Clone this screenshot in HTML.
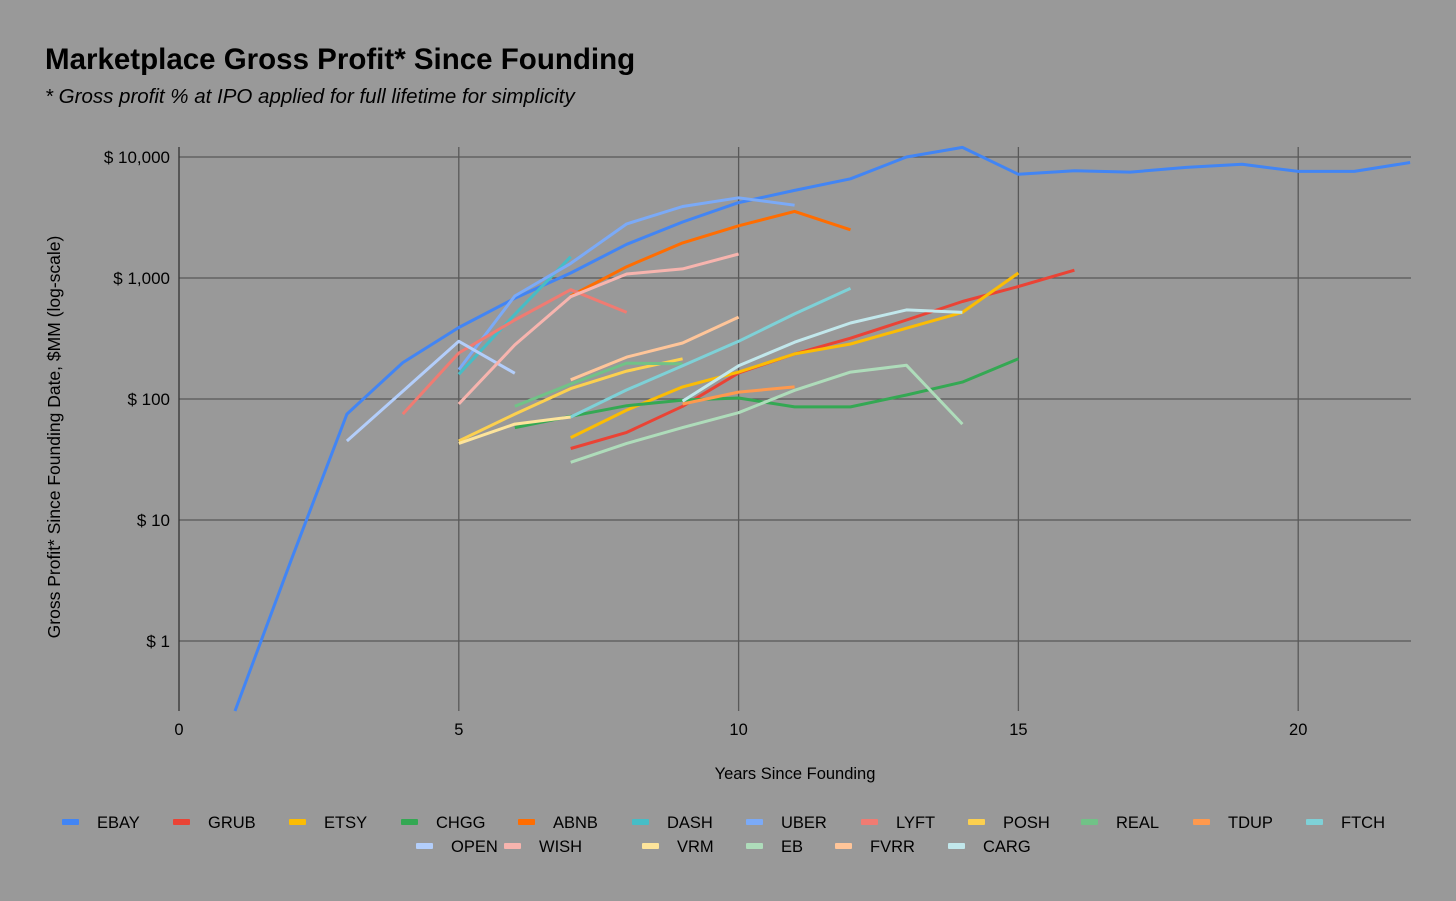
<!DOCTYPE html>
<html><head><meta charset="utf-8"><style>
body{margin:0;background:#999999;font-family:"Liberation Sans",sans-serif;}
svg{display:block}
</style></head><body>
<svg id="chart" width="1456" height="901">
<rect width="1456" height="901" fill="#999999"/>
<text x="45" y="69" font-size="29.5" font-weight="bold" fill="#000">Marketplace Gross Profit* Since Founding</text>
<text x="45" y="103" font-size="20.5" font-style="italic" fill="#000">* Gross profit % at IPO applied for full lifetime for simplicity</text>
<text transform="translate(60,437) rotate(-90)" text-anchor="middle" font-size="17.5" fill="#000">Gross Profit* Since Founding Date, $MM (log-scale)</text>
<text x="795" y="779" text-anchor="middle" font-size="16.5" fill="#000">Years Since Founding</text>
<g id="grid"></g><g id="series"></g><g id="legend"></g>
</svg>
<script>
const xTicks=[0,5,10,15,20];
const yTicks=[1,10,100,1000,10000];
const yTickLabels=["$ 1","$ 10","$ 100","$ 1,000","$ 10,000"];
const names=["EBAY","GRUB","ETSY","CHGG","ABNB","DASH","UBER","LYFT","POSH","REAL","TDUP","FTCH","OPEN","WISH","VRM","EB","FVRR","CARG"];
const colors=["#4285f4","#ea4335","#fbbc04","#34a853","#ff6d01","#46bdc6","#7baaf7","#f07b72","#fcd04f","#71c287","#ff994d","#7ed1d7","#b3cefb","#f7b4ae","#fde49b","#aedcba","#ffc599","#c1e7eb"];
const starts=[1,7,7,6,7,5,5,4,5,6,9,7,3,5,5,7,7,9];
const EBAY=[0.26,4.6,75,200,390,680,1100,1900,2900,4200,5300,6600,10000,12000,7200,7700,7500,8200,8700,7600,7600,9000];
const GRUB=[39,53,87,164,236,318,450,640,850,1160];
const ETSY=[48,81,126,167,236,285,385,520,1100];
const CHGG=[58,72,88,98,102,86,86,108,138,215];
const ABNB=[710,1240,1950,2700,3550,2500];
const DASH=[160,500,1500];
const UBER=[175,710,1320,2800,3900,4600,4000];
const LYFT=[75,240,450,800,520];
const POSH=[45,75,122,170,215];
const REAL=[87,133,198,195];
const TDUP=[91,114,126];
const FTCH=[71,119,188,300,505,820];
const OPEN=[45,116,300,163];
const WISH=[91,280,700,1080,1190,1580];
const VRM=[43,62,71];
const EB=[30,43,58,77,118,167,190,62];
const FVRR=[144,222,290,475];
const CARG=[96,188,295,425,545,520];
const values=[EBAY,GRUB,ETSY,CHGG,ABNB,DASH,UBER,LYFT,POSH,REAL,TDUP,FTCH,OPEN,WISH,VRM,EB,FVRR,CARG];
const NS="http://www.w3.org/2000/svg";
const X=v=>179+v*55.96;
const Y=v=>641-Math.log10(v)*121;
const L=179,R=1411,T=147,B=711;
const grid=document.getElementById('grid');
function mk(tag,attrs,parent){const e=document.createElementNS(NS,tag);for(const k in attrs)e.setAttribute(k,attrs[k]);parent.appendChild(e);return e;}
yTicks.forEach((t,i)=>{
 const ln=mk('line',{x1:L,x2:R,y1:Y(t),y2:Y(t),stroke:'#595959','stroke-width':1.3},grid);
 
 
 const tx=mk('text',{x:170,y:Y(t)+6,'text-anchor':'end','font-size':17,fill:'#000'},grid);
 tx.textContent=yTickLabels[i];
 
 
});
xTicks.forEach(t=>{
 const ln=mk('line',{x1:X(t),x2:X(t),y1:T,y2:B,stroke:t===0?'#333':'#595959','stroke-width':1.3},grid);
 
 
 const tx=mk('text',{x:X(t),y:735,'text-anchor':'middle','font-size':16.5,fill:'#000'},grid);
 tx.textContent=String(t);
 
 
});
const sg=document.getElementById('series');
values.forEach((arr,i)=>{
 const pts=arr.map((v,j)=>X(starts[i]+j).toFixed(1)+','+Math.max(T-20,Math.min(B,Y(v))).toFixed(1)).join(' ');
 const pl=mk('polyline',{points:pts,fill:'none',stroke:colors[i],'stroke-width':3,'stroke-linejoin':'round'},sg);
 
 
});
const lg=document.getElementById('legend');
const row1=[97,208,324,436,553,667,781,896,1003,1116,1228,1341];
const row2=[451,539,677,781,870,983];
names.forEach((n,i)=>{
 const tx0=i<12?row1[i]:row2[i-12];
 const y=i<12?822:846;
 const g=mk('g',{},lg);
 
 
 mk('rect',{x:tx0-35,y:y-3,width:17,height:6,rx:1,fill:colors[i]},g);
 const t=mk('text',{x:tx0,y:y+6,'font-size':16.5,fill:'#000'},g);
 t.textContent=n;
});
</script>
</body></html>
